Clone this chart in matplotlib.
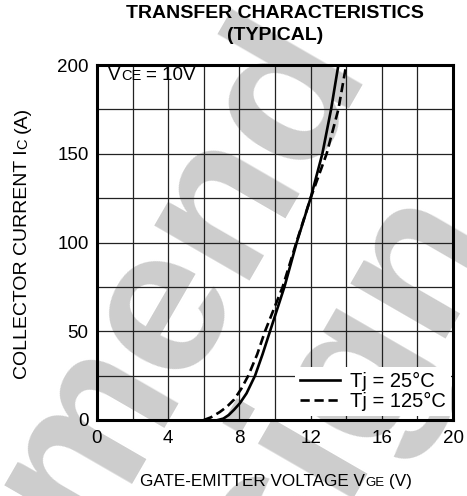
import matplotlib

matplotlib.use("Agg")
import matplotlib.pyplot as plt
import matplotlib.transforms as mtransforms

# values
VGE_25 = [6.8, 7.1, 7.4, 7.7, 8.03, 8.4, 8.88, 9.3, 9.72, 10.53, 11.22, 12.0, 12.66, 13.15, 13.56]
IC_25 = [0, 0.8, 2.8, 5.8, 9.5, 15, 25, 37, 50, 75, 100, 125, 150, 175, 200]
VGE_125 = [6.0, 6.4, 6.9, 7.3, 7.7, 8.1, 8.5, 9.0, 9.44, 10.43, 11.2, 12.0, 12.9, 13.56, 14.0]
IC_125 = [0, 1.5, 4.5, 7.5, 11.5, 17.5, 25, 37, 50, 75, 100, 125, 150, 175, 200]

X_TICKS = [0, 4, 8, 12, 16, 20]
Y_TICKS = [0, 50, 100, 150, 200]
LABELS = ["Tj = 25°C", "Tj = 125°C"]

FONT = "Liberation Sans"
DPI = 100
W, H = 467, 496

plt.rcParams.update({"font.family": FONT})

fig = plt.figure(figsize=(W / DPI, H / DPI), dpi=DPI)
ax = fig.add_axes([97 / W, 1 - 420 / H, 356 / W, 355 / H])
px = mtransforms.IdentityTransform()


def chain(cx, cy, parts, rotation=0, **kw):
    """Draw text pieces of mixed size end to end, centred on (cx, cy) in pixels."""
    renderer = fig.canvas.get_renderer()
    items = []
    for s, size in parts:
        gap = 0.0
        if s.startswith(" "):
            gap = 0.278 * size * DPI / 72
            s = s.lstrip()
        t = fig.text(0, 0, s, fontsize=size, ha="left", va="baseline",
                     rotation=rotation, rotation_mode="anchor", transform=px, **kw)
        bb = t.get_window_extent(renderer)
        items.append((t, gap, bb.width if rotation == 0 else bb.height))
    total = sum(g + w for _, g, w in items)
    pos = -total / 2
    for t, g, w in items:
        pos += g
        if rotation == 0:
            t.set_position((cx + pos, cy))
        else:
            t.set_position((cx, cy + pos))
        pos += w


# watermark, kept under the grid and curves
wm = dict(fontsize=150, fontweight="bold", color="#cdcdcd", rotation=60,
          rotation_mode="anchor", ha="left", va="baseline", transform=px,
          zorder=0.5, clip_on=False)
ax.text(86, H - 540, "mend", **wm)
ax.text(286, H - 604, "sign", **wm)

ax.plot(VGE_25, IC_25, color="black", lw=1.9, label=LABELS[0], zorder=3)
ax.plot(VGE_125, IC_125, color="black", lw=1.9, ls=(0, (3.5, 1.8)), label=LABELS[1], zorder=3)

ax.set_xlim(0, 20)
ax.set_ylim(0, 200)
ax.set_xticks(X_TICKS)
ax.set_yticks(Y_TICKS)
ax.set_xticks(range(0, 21, 2), minor=True)
ax.set_yticks(range(0, 201, 25), minor=True)
ax.tick_params(which="both", length=0, labelsize=13.5)
ax.tick_params(axis="x", pad=7)
ax.tick_params(axis="y", pad=6)
ax.grid(which="both", color="#222222", lw=0.9, zorder=1)
ax.set_axisbelow(False)
for sp in ax.spines.values():
    sp.set_linewidth(2.2)
    sp.set_zorder(4)

leg = ax.legend(loc="lower right", bbox_to_anchor=(0.995, 0.01), fontsize=14.5,
                frameon=True, fancybox=False, framealpha=1, edgecolor="none",
                handlelength=2.0, handletextpad=0.5, borderpad=0.25, labelspacing=0.05,
                borderaxespad=0)
leg.set_zorder(5)

chain(152, H - 80, [("V", 13.5), ("CE", 10.5), (" = 10V", 13.5)])

chain(275, H - 18, [("TRANSFER CHARACTERISTICS", 14)], fontweight="bold")
chain(275, H - 40, [("(TYPICAL)", 14)], fontweight="bold")
chain(276, H - 486, [("GATE-EMITTER VOLTAGE V", 12.3), ("GE", 9.5), (" (V)", 12.3)])
chain(27, H - 243, [("COLLECTOR CURRENT I", 14), ("C", 10.5), (" (A)", 14)], rotation=90)

fig.savefig("out.png", dpi=DPI, facecolor="white")
